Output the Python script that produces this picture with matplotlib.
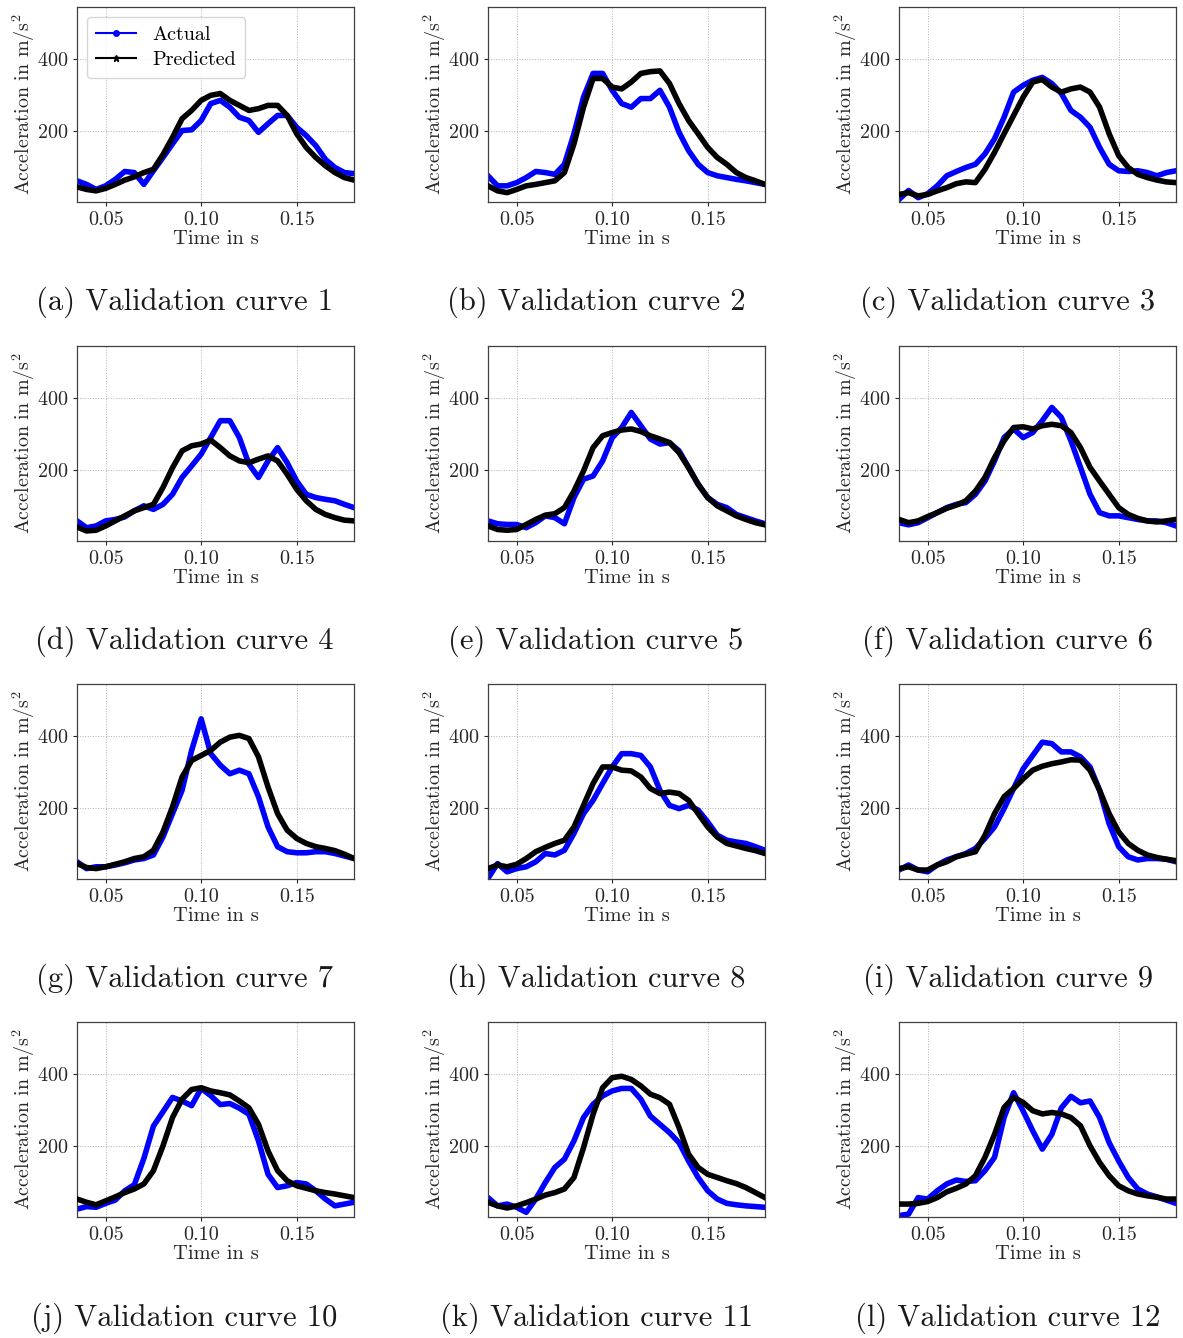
import numpy as np
import matplotlib
matplotlib.use("Agg")
import matplotlib.pyplot as plt
from matplotlib.lines import Line2D

plt.rcParams["font.family"] = "serif"
plt.rcParams["font.serif"] = ["cmr10"]
plt.rcParams["mathtext.fontset"] = "cm"
plt.rcParams["axes.formatter.use_mathtext"] = True
plt.rcParams["axes.unicode_minus"] = False

# common time base [s]
t = np.round(np.arange(0.035, 0.1801, 0.005), 3)

actual = [
    [61, 51, 37, 47, 65, 87, 84, 51, 89, 126, 164, 201, 203, 229, 276, 285, 266, 238, 229, 196, 220, 243, 243, 210, 187, 159, 121, 98, 84, 81],
    [75, 47, 47, 56, 70, 87, 84, 79, 107, 192, 294, 360, 360, 313, 276, 266, 290, 290, 313, 266, 196, 145, 107, 84, 75, 70, 65, 61, 56, 51],
    [9, 34, 14, 25, 47, 75, 87, 98, 107, 136, 178, 238, 308, 327, 341, 349, 332, 304, 257, 238, 210, 154, 107, 89, 87, 89, 84, 75, 84, 89],
    [58, 39, 44, 58, 62, 69, 86, 100, 90, 104, 132, 179, 211, 244, 290, 337, 337, 290, 216, 179, 225, 262, 220, 169, 132, 123, 118, 114, 104, 95],
    [58, 50, 48, 48, 39, 53, 72, 67, 50, 123, 174, 183, 225, 289, 318, 360, 323, 286, 272, 276, 253, 207, 160, 123, 104, 95, 76, 67, 58, 50],
    [53, 47, 53, 67, 81, 95, 104, 109, 132, 169, 225, 290, 314, 290, 304, 337, 374, 346, 281, 207, 132, 81, 72, 72, 67, 62, 58, 58, 53, 44],
    [50, 31, 36, 36, 41, 47, 55, 59, 69, 119, 184, 249, 360, 448, 351, 319, 295, 305, 295, 231, 147, 92, 78, 75, 75, 78, 78, 73, 66, 59],
    [4, 45, 22, 31, 36, 50, 73, 69, 82, 129, 184, 221, 268, 314, 351, 351, 346, 314, 249, 207, 198, 207, 194, 161, 124, 110, 105, 101, 92, 82],
    [27, 41, 27, 22, 41, 55, 64, 73, 87, 115, 147, 198, 254, 309, 346, 383, 379, 356, 356, 342, 314, 249, 156, 92, 64, 55, 59, 59, 57, 50],
    [24, 31, 29, 40, 49, 75, 92, 165, 255, 295, 335, 325, 312, 360, 340, 315, 318, 305, 288, 214, 121, 84, 89, 98, 94, 75, 52, 33, 38, 43],
    [56, 33, 38, 29, 15, 52, 98, 140, 163, 214, 279, 316, 339, 353, 360, 360, 330, 283, 260, 237, 209, 158, 112, 75, 52, 40, 36, 33, 31, 29],
    [6, 10, 56, 52, 75, 94, 105, 101, 103, 131, 168, 279, 348, 297, 242, 191, 232, 306, 338, 320, 325, 279, 209, 158, 112, 80, 66, 58, 49, 40],
]

predicted = [
    [44, 37, 33, 40, 51, 63, 72, 84, 93, 134, 182, 234, 257, 285, 299, 304, 285, 271, 257, 262, 271, 271, 243, 192, 154, 126, 103, 84, 70, 63],
    [47, 33, 28, 37, 47, 51, 56, 61, 84, 164, 266, 346, 346, 322, 317, 336, 360, 365, 367, 332, 276, 229, 192, 154, 126, 107, 84, 70, 61, 51],
    [23, 28, 19, 23, 33, 42, 53, 58, 56, 93, 140, 192, 243, 294, 336, 343, 322, 308, 317, 322, 308, 266, 192, 131, 98, 79, 70, 63, 58, 56],
    [41, 30, 32, 44, 58, 72, 86, 95, 104, 151, 206, 253, 267, 272, 283, 262, 239, 225, 220, 230, 239, 225, 188, 146, 114, 90, 76, 67, 60, 58],
    [44, 34, 32, 34, 48, 62, 74, 78, 95, 141, 197, 262, 295, 304, 311, 314, 307, 295, 286, 276, 248, 206, 160, 123, 100, 86, 72, 62, 53, 47],
    [62, 53, 58, 70, 81, 93, 102, 114, 141, 179, 234, 281, 318, 320, 314, 323, 327, 323, 304, 262, 207, 169, 132, 95, 76, 65, 58, 55, 58, 62],
    [45, 34, 31, 36, 43, 50, 59, 64, 82, 133, 203, 286, 332, 346, 360, 383, 397, 402, 393, 342, 258, 184, 138, 115, 101, 92, 87, 81, 71, 59],
    [31, 41, 36, 43, 59, 78, 90, 101, 110, 147, 207, 268, 314, 314, 305, 303, 286, 254, 240, 244, 240, 221, 184, 147, 119, 101, 94, 87, 81, 73],
    [31, 36, 27, 27, 41, 50, 64, 71, 78, 124, 184, 231, 254, 281, 305, 316, 323, 328, 334, 333, 305, 249, 184, 133, 101, 82, 69, 62, 57, 53],
    [52, 43, 36, 47, 58, 70, 80, 94, 131, 200, 279, 330, 357, 362, 353, 348, 342, 325, 306, 260, 186, 131, 103, 89, 82, 75, 70, 66, 61, 56],
    [43, 33, 27, 33, 42, 52, 63, 70, 80, 112, 195, 288, 362, 390, 394, 385, 367, 344, 334, 316, 251, 177, 140, 121, 112, 103, 95, 84, 70, 56],
    [38, 38, 40, 45, 56, 72, 82, 94, 117, 168, 232, 307, 335, 321, 298, 289, 293, 289, 279, 256, 200, 154, 117, 89, 75, 66, 61, 57, 52, 52],
]

letters = "abcdefghijkl"

W, H = 1183, 1338
fig = plt.figure(figsize=(W / 100, H / 100), dpi=100)

col_x = [77, 488, 899]
row_y = [7, 346, 684, 1022]
ax_w, ax_h = 277, 195
cap_x = [184, 596, 1008]
cap_y = [302, 641, 979, 1318]

for i in range(12):
    r, c = divmod(i, 3)
    ax = fig.add_axes([col_x[c] / W, 1 - (row_y[r] + ax_h) / H, ax_w / W, ax_h / H])
    ax.plot(t, actual[i], color="#0000ff", lw=4, solid_joinstyle="round", zorder=2)
    ax.plot(t, predicted[i], color="black", lw=4, solid_joinstyle="round", zorder=3)
    ax.set_xlim(0.035, 0.18)
    ax.set_ylim(2, 545)
    ax.set_xticks([0.05, 0.10, 0.15])
    ax.set_xticklabels(["0.05", "0.10", "0.15"])
    ax.set_yticks([200, 400])
    ax.tick_params(labelsize=14.5, length=3, width=0.8, colors="0.15")
    ax.grid(True, ls=":", lw=0.7, color="0.7")
    ax.set_axisbelow(True)
    for s in ax.spines.values():
        s.set_color("0.25")
        s.set_linewidth(0.9)
    ax.set_xlabel("Time in s", fontsize=14.8, color="0.15", labelpad=1)
    ax.set_ylabel(r"Acceleration in m/s$^2$", fontsize=14.4, color="0.15", labelpad=0)
    if i == 0:
        handles = [
            Line2D([], [], color="#0000ff", lw=1.5, marker="o", ms=4),
            Line2D([], [], color="black", lw=1.5, marker="*", ms=5),
        ]
        ax.legend(handles, ["Actual", "Predicted"], loc="upper left", fontsize=14.5,
                  framealpha=0.8, edgecolor="0.8", handlelength=2.0,
                  borderpad=0.45, labelspacing=0.35, borderaxespad=0.5)
    fig.text(cap_x[c] / W, 1 - cap_y[r] / H, f"({letters[i]}) Validation curve {i + 1}",
             ha="center", va="center", fontsize=22, color="0.1")

fig.savefig("out.png", dpi=100)
